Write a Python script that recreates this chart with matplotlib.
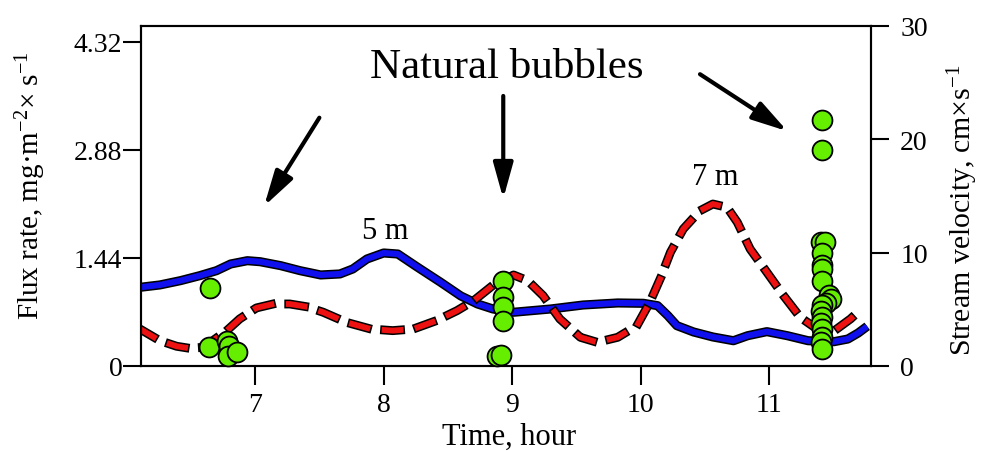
import numpy as np
import matplotlib
matplotlib.use("Agg")
import matplotlib.pyplot as plt
import matplotlib.patheffects as pe

plt.rcParams['font.family'] = ['Liberation Serif', 'DejaVu Serif']
plt.rcParams['mathtext.fontset'] = 'custom'
plt.rcParams['mathtext.rm'] = 'Liberation Serif'
plt.rcParams['mathtext.it'] = 'Liberation Serif:italic'
plt.rcParams['lines.scale_dashes'] = False

# stream velocity at 5 m (blue, solid)
hours_5m = [6.105, 6.26, 6.42, 6.57, 6.70, 6.81, 6.94, 7.04, 7.20, 7.35, 7.51,
            7.66, 7.76, 7.87, 8.00, 8.11, 8.26, 8.44, 8.60, 8.73, 8.85,
            9.01, 9.30, 9.55, 9.82, 10.02, 10.13, 10.21, 10.28, 10.41, 10.56,
            10.72, 10.83, 10.98, 11.14, 11.30, 11.50, 11.61, 11.69, 11.76]
vel_5m = [6.94, 7.15, 7.53, 7.97, 8.41, 9.00, 9.29, 9.20, 8.85, 8.41, 8.03,
          8.12, 8.56, 9.44, 9.97, 9.88, 8.74, 7.41, 6.18, 5.47, 5.03,
          4.74, 5.03, 5.38, 5.56, 5.53, 5.32, 4.44, 3.56, 3.00, 2.56,
          2.23, 2.67, 3.03, 2.67, 2.23, 2.14, 2.38, 2.91, 3.50]

# stream velocity at 7 m (red, dashed)
hours_7m = [6.105, 6.26, 6.39, 6.49, 6.60, 6.78, 6.88, 7.01, 7.14, 7.27, 7.40,
            7.53, 7.71, 7.90, 8.07, 8.23, 8.41, 8.57, 8.70, 8.83, 9.01, 9.12,
            9.24, 9.37, 9.53, 9.66, 9.82, 9.97, 10.07, 10.15, 10.23, 10.33,
            10.46, 10.56, 10.67, 10.75, 10.85, 10.98, 11.11, 11.24, 11.37,
            11.53, 11.63, 11.73]
vel_7m = [3.26, 2.23, 1.74, 1.56, 1.65, 3.12, 4.15, 5.12, 5.47, 5.47, 5.23,
          4.74, 3.85, 3.26, 3.12, 3.26, 4.00, 4.88, 5.76, 6.94, 8.03, 7.53,
          6.20, 4.15, 2.53, 2.09, 2.53, 3.56, 5.62, 7.68, 10.03, 12.09,
          13.70, 14.29, 14.00, 12.68, 10.32, 8.27, 6.20, 4.29, 3.26,
          3.32, 4.15, 5.18]

# natural bubbles flux
bubble_hours = [6.65, 6.64, 6.78, 6.80, 6.79, 6.86,
                8.93, 8.93, 8.93, 8.93, 8.88, 8.91,
                11.405, 11.405, 11.40, 11.43, 11.405, 11.405, 11.41, 11.41,
                11.46, 11.48, 11.44, 11.405, 11.40, 11.41, 11.40, 11.41,
                11.41, 11.40, 11.405]
bubble_flux = [1.04, 0.25, 0.33, 0.27, 0.13, 0.19,
               1.13, 0.92, 0.79, 0.60, 0.13, 0.15,
               3.28, 2.88, 1.65, 1.65, 1.51, 1.35, 1.29, 1.13,
               0.95, 0.89, 0.84, 0.81, 0.73, 0.65, 0.57, 0.49,
               0.39, 0.32, 0.23]

flux_ticks = [0, 1.44, 2.88, 4.32]
vel_ticks = [0, 10, 20, 30]
hour_ticks = [7, 8, 9, 10, 11]

fig = plt.figure(figsize=(9.84, 4.52), dpi=100)
ax = fig.add_axes([0.1433, 0.1881, 0.7419, 0.7522])
ax2 = ax.twinx()
ax.set_zorder(ax2.get_zorder() + 1)
ax.patch.set_visible(False)

outline = lambda w: [pe.Stroke(linewidth=w, foreground='black'), pe.Normal()]
ax2.plot(hours_5m, vel_5m, color='#1010ee', lw=4.4, solid_joinstyle='round',
         solid_capstyle='butt', path_effects=outline(6.6))
ax2.plot(hours_7m, vel_7m, color='#ee1111', lw=4.2, linestyle=(0, (11.5, 12.5)),
         dash_capstyle='projecting', dash_joinstyle='round',
         path_effects=outline(6.4))

ax.scatter(bubble_hours, bubble_flux, s=205, color='#66ee00',
           edgecolor='black', linewidth=1.3, zorder=5, clip_on=False)

ax.set_xlim(6.113, 11.79)
ax.set_ylim(0, 4.533)
ax2.set_ylim(0, 30)
ax.set_xticks(hour_ticks)
ax.set_yticks(flux_ticks)
ax.set_yticklabels(['0', '1.44', '2.88', '4.32'])
ax2.set_yticks(vel_ticks)

for a in (ax, ax2):
    for s in a.spines.values():
        s.set_linewidth(1.5)
ax.tick_params(axis='x', direction='out', length=14, width=1.5, pad=5,
               labelsize=20)
ax.tick_params(axis='y', direction='out', length=13, width=1.5, pad=0.5,
               labelsize=20)
ax2.tick_params(axis='y', direction='out', length=13, width=1.5, pad=8,
                labelsize=20)

ax.set_xlabel('Time, hour', fontsize=22)
ax.xaxis.set_label_coords(0.504, -0.206)
ax.xaxis.label.set_va('center')
ax.set_ylabel('Flux rate, mg·m$^{-2}$× s$^{-1}$', fontsize=21)
ax.yaxis.set_label_coords(-0.151, 0.535)
ax.yaxis.label.set_va('center')
ax2.set_ylabel('Stream velocity, cm×s$^{-1}$', fontsize=21.5)
ax2.yaxis.set_label_coords(1.125, 0.46)
ax2.yaxis.label.set_va('center')

ax.text(8.955, 3.99, 'Natural bubbles', fontsize=31, ha='center', va='center')
ax.text(8.01, 1.80, '5 m', fontsize=22, ha='center', va='center')
ax.text(10.58, 2.52, '7 m', fontsize=22, ha='center', va='center')

arrow = dict(arrowstyle='-|>,head_length=1.08,head_width=0.3', color='black',
             lw=3, mutation_scale=20, shrinkA=0, shrinkB=0)
ax.annotate('', xy=(7.07, 2.13), xytext=(7.50, 3.31), arrowprops=arrow)
ax.annotate('', xy=(8.93, 2.23), xytext=(8.93, 3.60), arrowprops=arrow)
ax.annotate('', xy=(11.14, 3.13), xytext=(10.46, 3.89), arrowprops=arrow)

fig.savefig('out.png', dpi=100)
